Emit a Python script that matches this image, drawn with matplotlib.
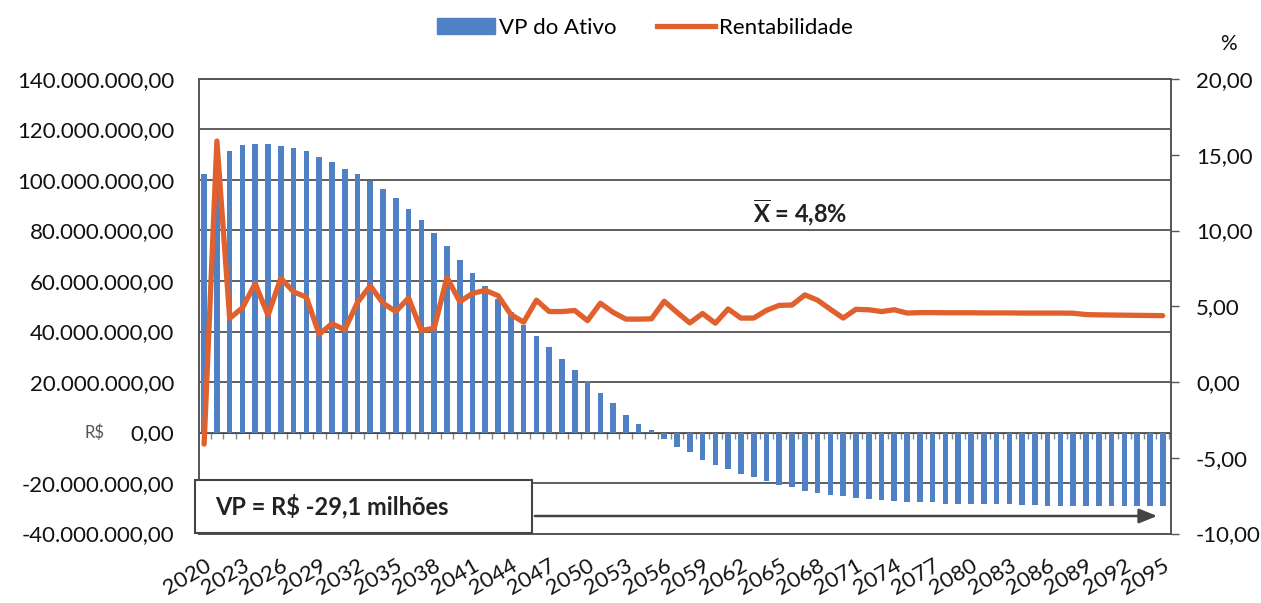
import numpy as np
import matplotlib
matplotlib.use("Agg")
import matplotlib.pyplot as plt
from matplotlib.ticker import FuncFormatter, MultipleLocator, NullFormatter
from matplotlib.patches import Patch, Rectangle, FancyArrowPatch
from matplotlib.lines import Line2D

plt.rcParams['font.family'] = ['Lato', 'DejaVu Sans']
plt.rcParams['mathtext.fontset'] = 'custom'
plt.rcParams['mathtext.rm'] = 'Lato'
plt.rcParams['mathtext.bf'] = 'Lato:bold'

# anos da projecao
anos = list(range(2020, 2096))
anos_rotulo = anos[::3]

# valor presente do ativo, em milhoes de R$
vp_ativo_mi = [
    102.3, 107.0, 111.5, 113.7, 114.2, 114.2, 113.6, 112.7, 111.3, 109.2,
    107.0, 104.4, 102.2, 99.8, 96.4, 93.0, 88.4, 84.0, 79.0, 73.8,
    68.4, 63.0, 58.0, 52.9, 47.7, 42.5, 38.3, 33.7, 29.3, 24.8,
    20.3, 15.8, 11.5, 7.0, 3.4, 0.8, -2.6, -5.6, -7.8, -10.7,
    -12.8, -14.4, -16.4, -17.8, -19.2, -20.8, -21.6, -23.0, -23.8, -24.6,
    -25.3, -26.1, -26.3, -26.9, -27.1, -27.6, -27.5, -27.7, -28.3, -28.2,
    -28.5, -28.4, -28.3, -28.5, -28.8, -28.8, -29.2, -29.1, -29.2, -29.1,
    -29.2, -29.3, -29.2, -29.3, -29.2, -29.1,
]

# rentabilidade anual (%)
rentabilidade = [
    -4.1, 15.9, 4.2, 4.9, 6.5, 4.4, 6.85, 5.95, 5.6, 3.15,
    3.85, 3.45, 5.25, 6.35, 5.2, 4.65, 5.55, 3.4, 3.55, 6.9,
    5.3, 5.85, 6.05, 5.7, 4.45, 3.95, 5.4, 4.65, 4.65, 4.72,
    4.05, 5.2, 4.6, 4.15, 4.15, 4.17, 5.33, 4.6, 3.9, 4.52,
    3.88, 4.82, 4.22, 4.22, 4.73, 5.06, 5.08, 5.75, 5.4, 4.8,
    4.22, 4.8, 4.77, 4.65, 4.77, 4.55, 4.58, 4.58, 4.57, 4.57,
    4.57, 4.56, 4.56, 4.56, 4.55, 4.55, 4.55, 4.55, 4.54, 4.45,
    4.43, 4.42, 4.41, 4.40, 4.39, 4.38,
]

azul = '#4f81c4'
laranja = '#e0602e'
cinza = '#444444'


def reais(v, pos):
    # formato brasileiro: 140.000.000,00
    return f"{v:,.2f}".replace(",", "X").replace(".", ",").replace("X", ".")


def pct(v, pos):
    return f"{v:.2f}".replace(".", ",")


W, H = 1261, 603
fig = plt.figure(figsize=(W / 100, H / 100), dpi=100)
ax = fig.add_axes([199 / W, 69.5 / H, 972 / W, 454.5 / H])

x = np.arange(len(anos))
ax.bar(x, np.array(vp_ativo_mi) * 1e6, width=0.44, color=azul, zorder=2)
ax.set_xlim(-0.4, len(anos) - 1 + 0.65)
ax.set_ylim(-40e6, 140e6)
ax.yaxis.set_major_locator(MultipleLocator(20e6))
ax.yaxis.set_major_formatter(FuncFormatter(reais))
ax.grid(axis='y', color='#333333', lw=1.1)
ax.set_axisbelow(True)
ax.tick_params(axis='y', length=0, pad=18, labelsize=16, labelcolor='#111111')

ax.set_xticks(x[::3])
ax.set_xticklabels(anos_rotulo, rotation=30, ha='right', va='top',
                   rotation_mode='anchor', fontsize=16, color='#111111')
ax.tick_params(axis='x', length=0, pad=16)
for s in ax.spines.values():
    s.set_color('#555555')
    s.set_linewidth(1.2)

# "R$" menor ao lado do zero
ax.annotate('R$', xy=(0, 0), xycoords=('axes fraction', 'data'),
            xytext=(-104, 0), textcoords='offset pixels',
            ha='center', va='center', fontsize=12, color='#555555')

# eixo de categorias passando pelo zero
eixo0 = ax.secondary_xaxis(40 / 180)
eixo0.set_xticks(np.arange(len(anos) + 1) - 0.5)
eixo0.xaxis.set_major_formatter(NullFormatter())
eixo0.tick_params(direction='out', length=4, color='#888888', width=1)
for s in eixo0.spines.values():
    s.set_color('#999999')

# rentabilidade no eixo da direita
ax2 = ax.twinx()
ax2.plot(x, rentabilidade, color=laranja, lw=3.8,
         solid_joinstyle='round', solid_capstyle='round')
ax2.set_ylim(-10, 20)
ax2.yaxis.set_major_locator(MultipleLocator(5))
ax2.yaxis.set_major_formatter(FuncFormatter(pct))
ax2.tick_params(axis='y', length=6, width=1, pad=12, labelsize=16,
                color='#555555', labelcolor='#111111')
for s in ax2.spines.values():
    s.set_color('#555555')
    s.set_linewidth(1.2)

fig.text(1228 / W, 1 - 44 / H, '%', ha='center', va='center', fontsize=15,
         color='#111111')

# legenda no topo
handles = [Patch(color=azul), Line2D([], [], color=laranja, lw=3.8)]
fig.legend(handles, ['VP do Ativo', 'Rentabilidade'], loc='center',
           bbox_to_anchor=(645 / W, 1 - 28 / H), ncol=2, frameon=False,
           fontsize=16, handlelength=2.6, handletextpad=0.2,
           columnspacing=1.8)

# media da rentabilidade
media = np.mean(rentabilidade)
fig.text(800 / W, 1 - 212 / H,
         r'$\mathbf{\overline{X}}$' + f' = {media:.1f}%'.replace('.', ','),
         ha='center', va='center', fontsize=17, fontweight='bold',
         color='#222222')

# caixa com o VP final e seta ao longo dos anos
caixa = Rectangle((195 / W, 1 - 533 / H), 337 / W, 53 / H,
                  transform=fig.transFigure, fc='white', ec=cinza, lw=1.5,
                  zorder=10)
fig.add_artist(caixa)
texto_vp = f"VP = R$ {vp_ativo_mi[-1]:.1f} milhões".replace('.', ',')
fig.text(215 / W, 1 - 506 / H, texto_vp, ha='left', va='center',
         fontsize=17, fontweight='bold', color='#222222', zorder=11)

seta = FancyArrowPatch((532 / W, 1 - 516 / H), (1160 / W, 1 - 516 / H),
                       transform=fig.transFigure,
                       arrowstyle='-|>,head_length=0.55,head_width=0.22',
                       mutation_scale=20, lw=1.8, color=cinza, zorder=10)
fig.add_artist(seta)

fig.savefig('out.png', dpi=100)
